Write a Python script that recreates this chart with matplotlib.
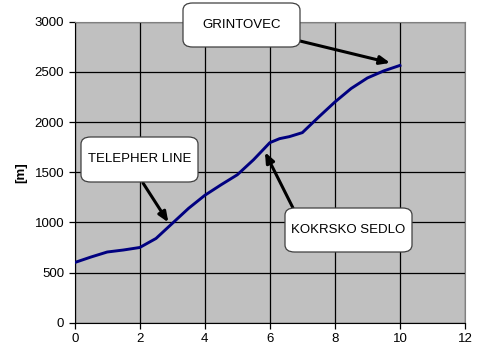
import numpy as np
import matplotlib
matplotlib.use('Agg')
import matplotlib.pyplot as plt
from matplotlib.patches import FancyBboxPatch

# **** data ****
dist = [0, 0.5, 1, 1.5, 2, 2.5, 3, 3.5, 4, 4.5, 5, 5.5, 6, 6.3, 6.6, 7, 7.5, 8, 8.5, 9, 9.5, 10]
height = [600, 655, 705, 725, 750, 840, 990, 1140, 1270, 1375, 1475, 1625, 1795, 1835, 1855, 1895,
          2050, 2200, 2335, 2440, 2510, 2565]

labels = ['GRINTOVEC', 'TELEPHER LINE', 'KOKRSKO SEDLO']
targets = [(9.7, 2590), (2.88, 1000), (5.85, 1700)]

plt.rcParams['font.family'] = ['Liberation Sans', 'DejaVu Sans']

fig = plt.figure(figsize=(4.81, 3.57), dpi=100)
ax = fig.add_axes([0.1553, 0.096, 0.8114, 0.843])
ax.set_facecolor('#c0c0c0')
ax.plot(dist, height, color='#000080', lw=2.1, zorder=3, solid_joinstyle='round')

ax.set_xlim(0, 12)
ax.set_ylim(0, 3000)
ax.set_xticks(np.arange(0, 13, 2))
ax.set_yticks(np.arange(0, 3001, 500))
ax.grid(True, color='black', lw=0.9)
ax.set_axisbelow(True)
ax.tick_params(direction='out', length=4, width=0.9, labelsize=9.5, colors='black')
for s in ['top', 'right']:
    ax.spines[s].set_color('#808080')
ax.set_ylabel('[m]', fontsize=9.5, fontweight='bold', labelpad=5)

# callout boxes (pixel boxes, converted to figure fraction)
W, H = 481, 357
boxes = [(183, 3, 117, 44), (81, 137, 117, 45), (285, 208, 127, 44)]
tails = [(300, 41), (143, 183), (293, 208)]
for lab, (bx, by, bw, bh), (tx, ty), tgt in zip(labels, boxes, tails, targets):
    p = FancyBboxPatch((bx / W, 1 - (by + bh) / H), bw / W, bh / H,
                       boxstyle='round,pad=0,rounding_size=0.02', transform=fig.transFigure,
                       facecolor='white', edgecolor='#404040', lw=0.9, zorder=5, clip_on=False)
    fig.patches.append(p)
    fig.text((bx + bw / 2) / W, 1 - (by + bh / 2) / H, lab, ha='center', va='center',
             fontsize=9.5, zorder=6)
    ax.annotate('', xy=tgt, xycoords='data', xytext=(tx / W, 1 - ty / H),
                textcoords='figure fraction',
                arrowprops=dict(arrowstyle='-|>,head_length=0.6,head_width=0.25',
                                color='black', lw=2.2, shrinkA=0, shrinkB=0), zorder=4)

fig.savefig('out.png', dpi=100)
